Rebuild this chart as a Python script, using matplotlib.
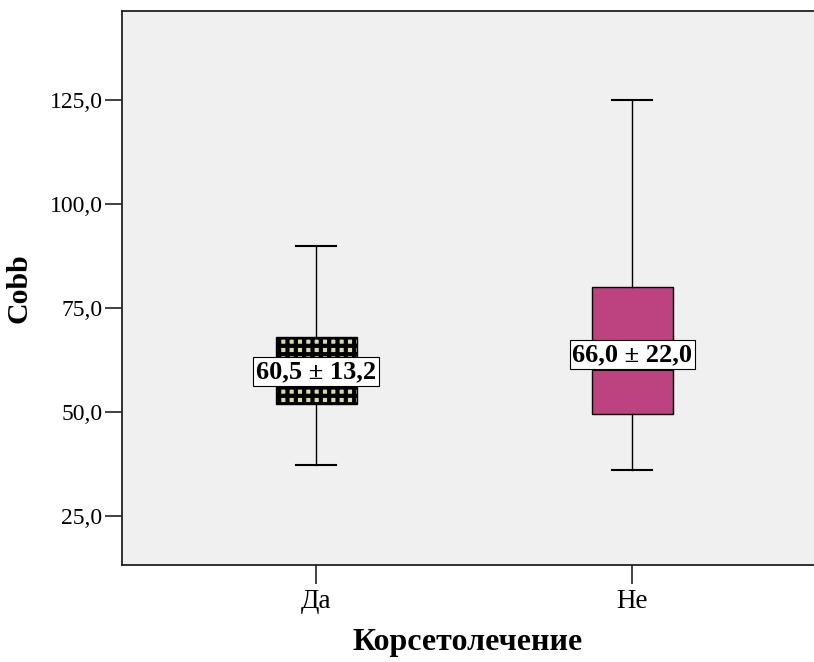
import numpy as np
import matplotlib
matplotlib.use("Agg")
import matplotlib.pyplot as plt

# данные (оценены по картинке)
groups = ["Да", "Не"]
whislo = [37.3, 36.1]
q1 = [52.0, 49.6]
med = [60.0, 60.2]
q3 = [67.9, 80.0]
whishi = [90.0, 125.0]
labels = ["60,5 ± 13,2", "66,0 ± 22,0"]
label_y = [59.7, 63.8]
yticks = [25, 50, 75, 100, 125]

plt.rcParams['font.family'] = ['Liberation Serif', 'DejaVu Serif']
plt.rcParams['hatch.linewidth'] = 3.0
plt.rcParams['hatch.color'] = 'black'

fig = plt.figure(figsize=(8.14, 6.62), dpi=100)
ax = fig.add_axes([122 / 814, 1 - 565 / 662, 692 / 814, 554 / 662])
ax.set_facecolor('#f0f0f0')

stats = []
for i in range(len(groups)):
    stats.append(dict(whislo=whislo[i], q1=q1[i], med=med[i], q3=q3[i],
                      whishi=whishi[i], fliers=[]))

bp = ax.bxp(stats, positions=[1, 2], widths=0.256, patch_artist=True,
            showfliers=False,
            boxprops=dict(linewidth=1.0, edgecolor='black'),
            whiskerprops=dict(linewidth=1.0, color='black'),
            capprops=dict(linewidth=1.5, color='black'),
            medianprops=dict(linewidth=1.5, color='black'),
            capwidths=0.128)

bp['boxes'][0].set_facecolor('#dcd7a4')
bp['boxes'][0].set_hatch('++')
bp['boxes'][1].set_facecolor('#bc4280')

for i, t in enumerate(labels):
    ax.text(i + 1, label_y[i], t, ha='center', va='center', fontsize=19,
            fontweight='bold', zorder=5,
            bbox=dict(boxstyle='square,pad=0.1', fc='white', ec='black', lw=0.8))

ax.set_xlim(0.386, 2.575)
ax.set_ylim(13.2, 146.4)
ax.set_yticks(yticks)
ax.set_yticklabels([f"{v:.1f}".replace('.', ',') for v in yticks])
ax.set_xticks([1, 2])
ax.set_xticklabels(groups)
ax.tick_params(axis='y', labelsize=17, length=12, width=1.2, color='#222222', pad=2)
ax.tick_params(axis='x', labelsize=19.5, length=13.5, width=1.2, color='#222222', pad=4)

for s in ['left', 'bottom', 'top']:
    ax.spines[s].set_linewidth(1.3)
    ax.spines[s].set_color('#222222')
ax.spines['right'].set_visible(False)

ax.set_ylabel("Cobb", fontsize=21.5, fontweight='bold', labelpad=12)
ax.set_xlabel("Корсетолечение", fontsize=23, fontweight='bold', labelpad=10)

fig.savefig("out.png", dpi=100)
